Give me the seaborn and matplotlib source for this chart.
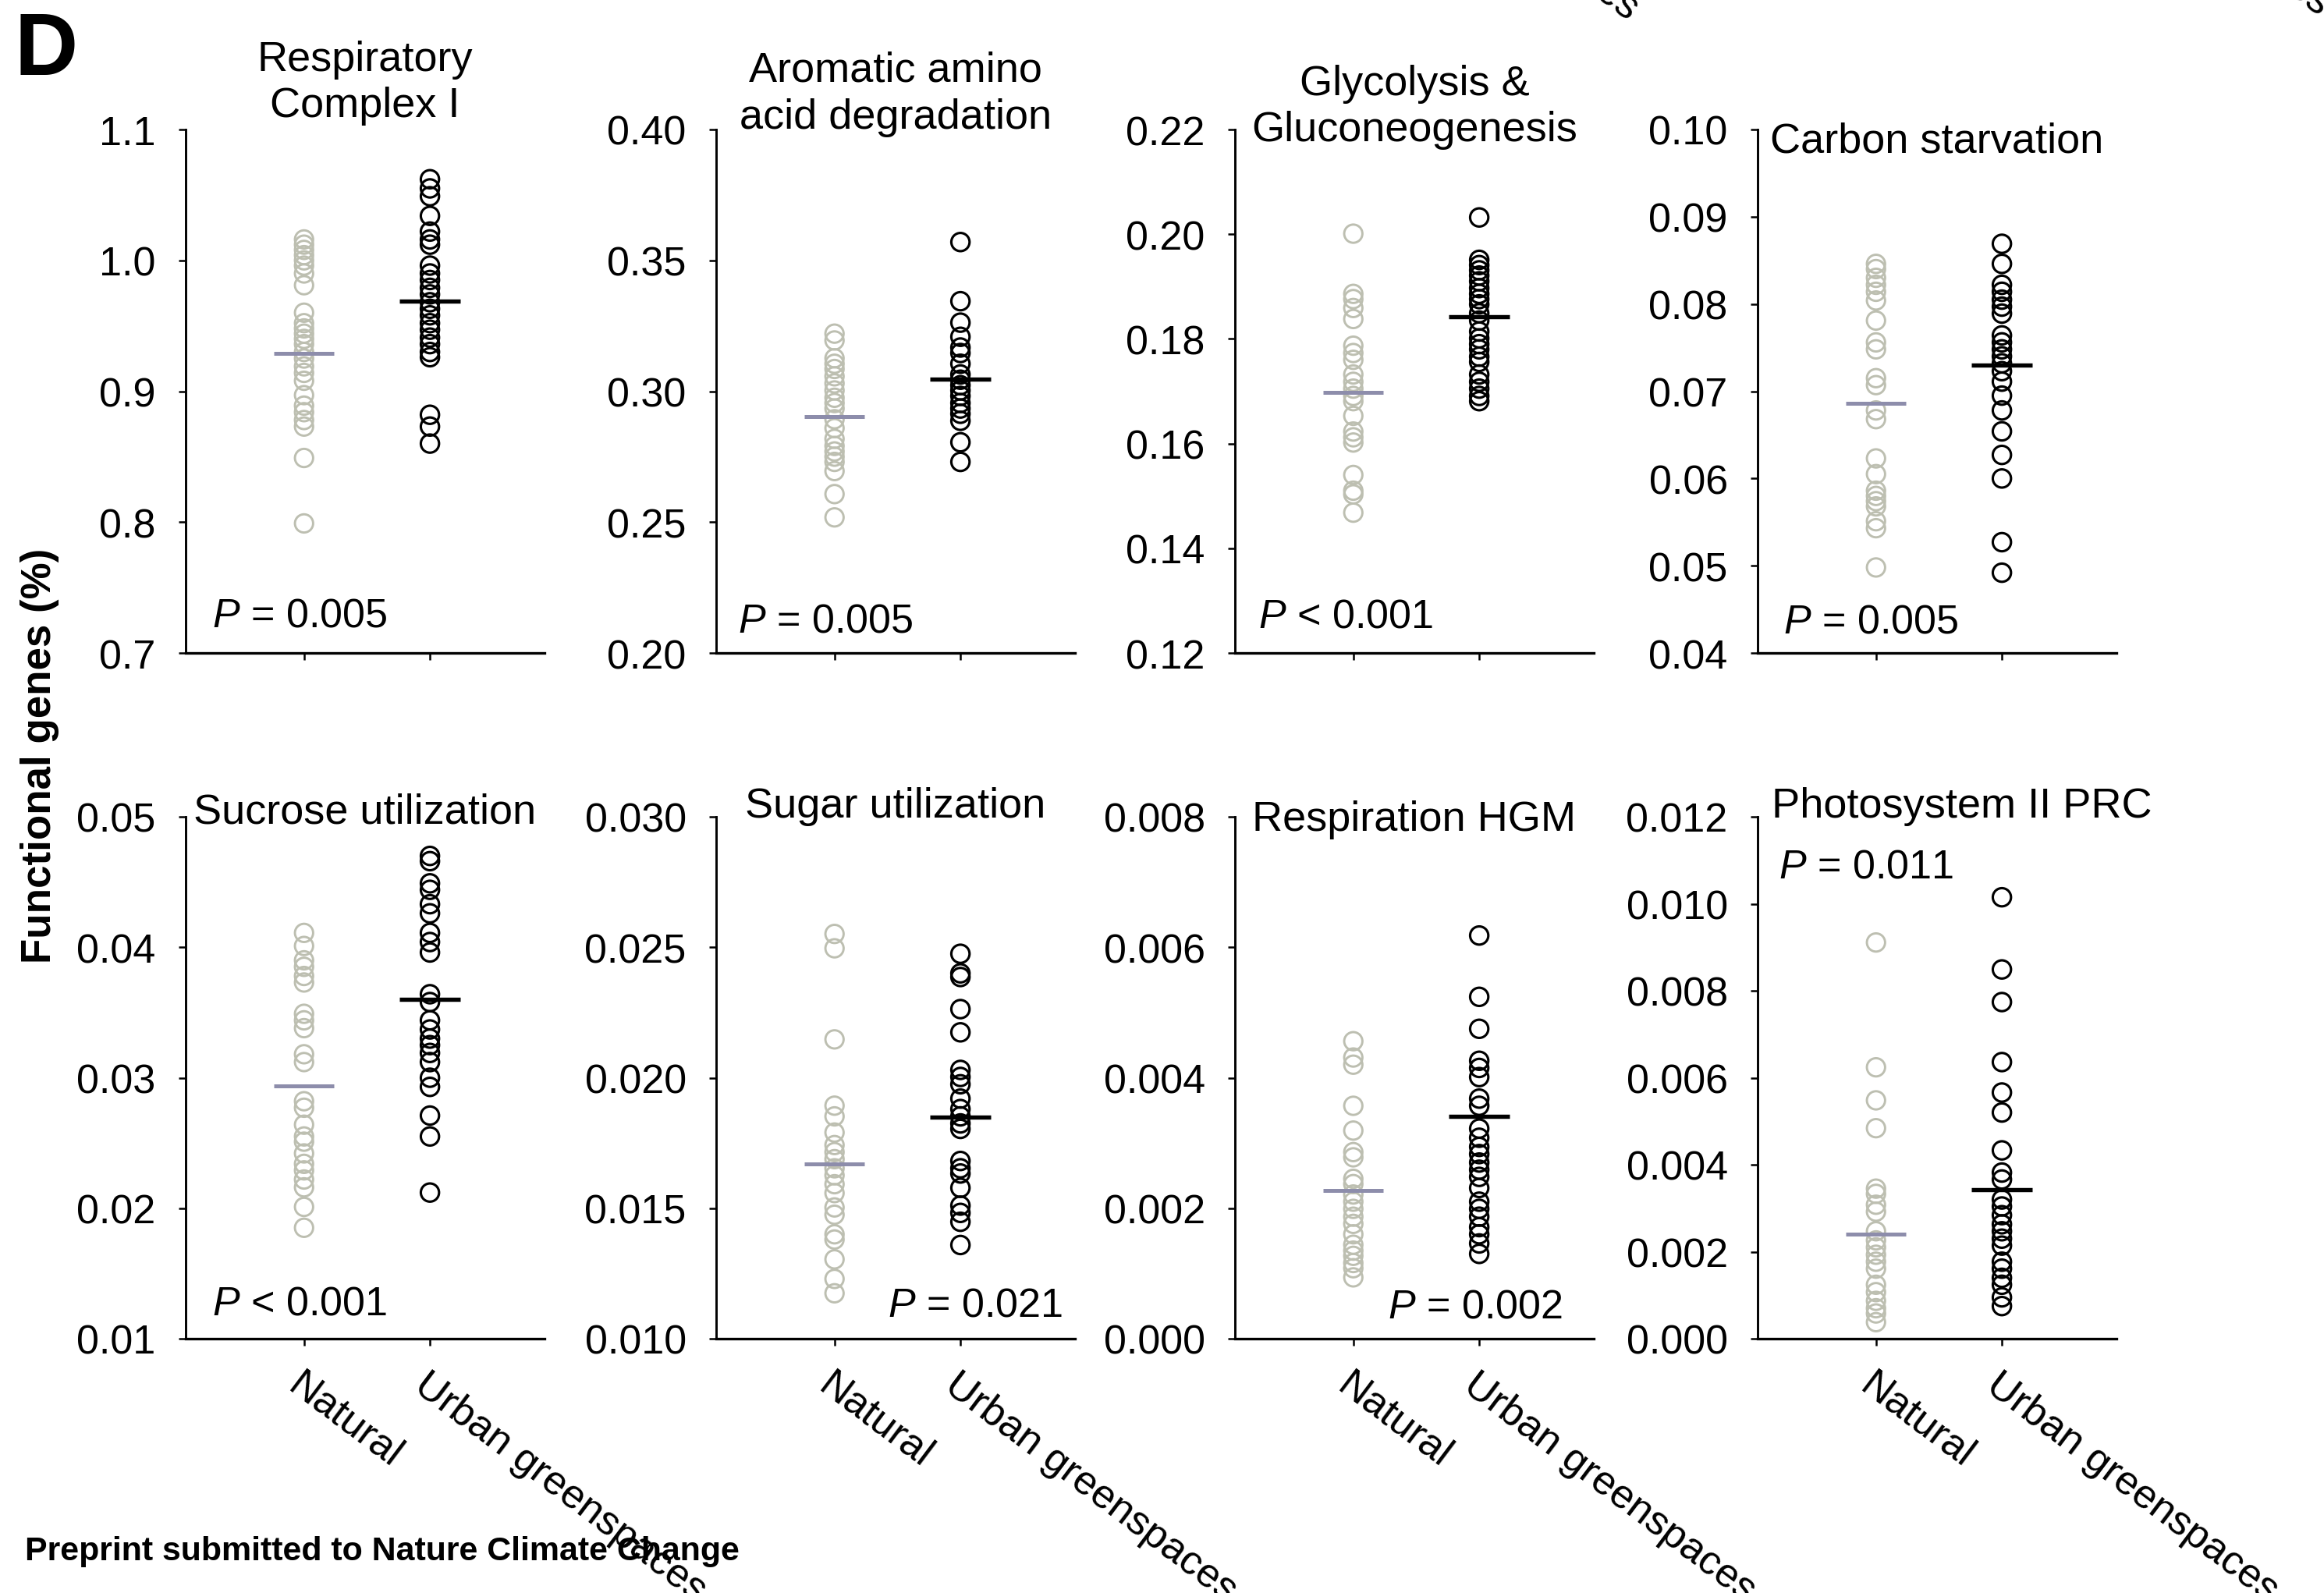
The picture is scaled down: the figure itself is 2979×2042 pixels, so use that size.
import numpy as np
import pandas as pd
import seaborn as sns
import matplotlib.pyplot as plt
from matplotlib.ticker import FormatStrFormatter

# values (functional genes, %)
groups = ['Natural', 'Urban greenspaces']

nat_complex1 = [1.016, 1.012, 1.008, 1.004, 1.000, 0.996, 0.990, 0.981, 0.960, 0.952, 0.948, 0.944, 0.940,
                0.936, 0.930, 0.925, 0.919, 0.914, 0.908, 0.897, 0.889, 0.884, 0.878, 0.873, 0.849, 0.799]
urb_complex1 = [1.062, 1.055, 1.049, 1.034, 1.022, 1.016, 1.012, 0.996, 0.990, 0.985, 0.979, 0.974, 0.968,
                0.963, 0.958, 0.952, 0.947, 0.941, 0.936, 0.930, 0.926, 0.882, 0.873, 0.860]

nat_aromatic = [0.322, 0.3194, 0.3126, 0.3105, 0.3085, 0.3057, 0.303, 0.3003, 0.2975, 0.2955, 0.2934, 0.2893,
                0.2859, 0.2818, 0.2791, 0.2770, 0.2750, 0.2730, 0.2695, 0.2607, 0.2518]
urb_aromatic = [0.357, 0.3344, 0.3262, 0.3208, 0.3167, 0.3146, 0.3105, 0.3064, 0.3044, 0.3023, 0.3003, 0.2982,
                0.2955, 0.2934, 0.2914, 0.2887, 0.2805, 0.2730]

nat_glyco = [0.2001, 0.1886, 0.1876, 0.1859, 0.1838, 0.1787, 0.1773, 0.1760, 0.1732, 0.1718, 0.1705, 0.1691,
             0.1681, 0.1653, 0.1623, 0.1612, 0.1602, 0.1540, 0.1510, 0.1503, 0.1468]
urb_glyco = [0.2032, 0.1951, 0.1941, 0.1931, 0.1921, 0.1910, 0.1897, 0.1886, 0.1876, 0.1866, 0.1849, 0.1835,
             0.1814, 0.1801, 0.1790, 0.1780, 0.1766, 0.1756, 0.1732, 0.1718, 0.1705, 0.1691, 0.1681]

nat_carbon = [0.0846, 0.0840, 0.0830, 0.0822, 0.0814, 0.0804, 0.0781, 0.0756, 0.0748, 0.0715, 0.0707, 0.0678,
              0.0668, 0.0623, 0.0605, 0.0586, 0.0580, 0.0574, 0.0568, 0.0551, 0.0543, 0.0498]
urb_carbon = [0.0869, 0.0846, 0.0822, 0.0814, 0.0805, 0.0797, 0.0789, 0.0764, 0.0756, 0.0748, 0.0740, 0.0732,
              0.0723, 0.0711, 0.0695, 0.0678, 0.0654, 0.0627, 0.0600, 0.0527, 0.0492]

nat_sucrose = [0.0411, 0.0401, 0.0390, 0.0385, 0.0378, 0.0373, 0.0349, 0.0344, 0.0338, 0.0318, 0.0312, 0.0282,
               0.0277, 0.0264, 0.0255, 0.0251, 0.0242, 0.0234, 0.0229, 0.0222, 0.0216, 0.0201, 0.0185]
urb_sucrose = [0.0470, 0.0466, 0.0449, 0.0444, 0.0433, 0.0426, 0.0411, 0.0404, 0.0396, 0.0364, 0.0358, 0.0344,
               0.0337, 0.0330, 0.0325, 0.0319, 0.0312, 0.0300, 0.0293, 0.0271, 0.0255, 0.0212]

nat_sugar = [0.02551, 0.02496, 0.02147, 0.01893, 0.01852, 0.0179, 0.01742, 0.01715, 0.01688, 0.01653, 0.01626,
             0.01592, 0.01558, 0.01503, 0.01475, 0.01400, 0.0138, 0.01304, 0.01229, 0.01174]
urb_sugar = [0.02475, 0.0240, 0.02386, 0.02263, 0.02174, 0.0203, 0.02003, 0.01975, 0.0192, 0.0188, 0.01852,
             0.01825, 0.01804, 0.01681, 0.01653, 0.01633, 0.01578, 0.0151, 0.01482, 0.01448, 0.01359]

nat_hgm = [0.00456, 0.00431, 0.0042, 0.00357, 0.00319, 0.00286, 0.00278, 0.00245, 0.00237, 0.00221, 0.0021,
           0.00199, 0.00187, 0.00176, 0.0016, 0.00144, 0.00135, 0.00127, 0.00116, 0.00108, 0.00094]
urb_hgm = [0.00618, 0.00524, 0.00475, 0.00426, 0.00415, 0.00401, 0.00368, 0.00357, 0.00322, 0.00308, 0.00294,
           0.00283, 0.0027, 0.00259, 0.00248, 0.00231, 0.0021, 0.00199, 0.00187, 0.00171, 0.0016, 0.00146, 0.0013]

nat_psii = [0.00911, 0.00624, 0.00548, 0.00484, 0.00345, 0.00333, 0.00308, 0.00292, 0.00247, 0.00226, 0.0021,
            0.00193, 0.00177, 0.00161, 0.00124, 0.00107, 0.00087, 0.0007, 0.00058, 0.00038]
urb_psii = [0.01015, 0.00849, 0.00774, 0.00636, 0.00566, 0.0052, 0.00433, 0.00382, 0.00366, 0.0032, 0.00304,
            0.00284, 0.00263, 0.00247, 0.0023, 0.00214, 0.00177, 0.00161, 0.0014, 0.00124, 0.00095, 0.00075]

mean_nat = [0.929, 0.2904, 0.1698, 0.0686, 0.0294, 0.01671, 0.00227, 0.00241]
mean_urb = [0.969, 0.3046, 0.1843, 0.0730, 0.0360, 0.01848, 0.00341, 0.00343]

titles = ['Respiratory\nComplex I', 'Aromatic amino\nacid degradation', 'Glycolysis &\nGluconeogenesis',
          'Carbon starvation', 'Sucrose utilization', 'Sugar utilization', 'Respiration HGM', 'Photosystem II PRC']
p_labels = ['= 0.005', '= 0.005', '< 0.001', '= 0.005', '< 0.001', '= 0.021', '= 0.002', '= 0.011']
y_limits = [(0.7, 1.1, 0.1), (0.20, 0.40, 0.05), (0.12, 0.22, 0.02), (0.04, 0.10, 0.01),
            (0.01, 0.05, 0.01), (0.010, 0.030, 0.005), (0.000, 0.008, 0.002), (0.000, 0.012, 0.002)]
y_formats = ['%.1f', '%.2f', '%.2f', '%.2f', '%.2f', '%.3f', '%.3f', '%.3f']

natural = [nat_complex1, nat_aromatic, nat_glyco, nat_carbon, nat_sucrose, nat_sugar, nat_hgm, nat_psii]
urban = [urb_complex1, urb_aromatic, urb_glyco, urb_carbon, urb_sucrose, urb_sugar, urb_hgm, urb_psii]

# layout (pixels of the 2979x2043 canvas / axes fractions)
W, H = 2979, 2043
lefts = [238, 918, 1583, 2253]
row_px = [(167, 838), (1048, 1717)]
title_pos = [(0.5, 1.090), (0.5, 1.069), (0.5, 1.044), (0.5, 0.978),
             (0.5, 1.010), (0.5, 1.021), (0.5, 0.996), (0.57, 1.021)]
p_pos = [(0.074, 0.072, 'left'), (0.061, 0.061, 'left'), (0.065, 0.070, 'left'), (0.072, 0.060, 'left'),
         (0.074, 0.067, 'left'), (0.965, 0.064, 'right'), (0.913, 0.061, 'right'), (0.059, 0.904, 'left')]

nat_color = '#BDBFB1'
nat_mean_color = '#8D8DAB'

sns.set_style('ticks')
plt.rcParams['font.family'] = ['Liberation Sans', 'DejaVu Sans']
plt.rcParams['mathtext.fontset'] = 'custom'
plt.rcParams['mathtext.it'] = 'Liberation Sans:italic'
plt.rcParams['mathtext.rm'] = 'Liberation Sans'
for key in ['text.color', 'axes.labelcolor', 'xtick.color', 'ytick.color', 'axes.edgecolor']:
    plt.rcParams[key] = 'black'

fig = plt.figure(figsize=(W / 300, H / 300), dpi=300)

for i in range(8):
    row, col = divmod(i, 4)
    top, bot = row_px[row]
    ax = fig.add_axes([lefts[col] / W, 1 - bot / H, 460 / W, (bot - top) / H])

    df = pd.DataFrame({'group': [groups[0]] * len(natural[i]) + [groups[1]] * len(urban[i]),
                       'value': natural[i] + urban[i]})
    sns.stripplot(data=df, x='group', y='value', hue='group', order=groups, hue_order=groups,
                  palette=[nat_color, 'black'], jitter=False, size=5.6, linewidth=0, legend=False, ax=ax)
    for coll, c in zip(ax.collections, [nat_color, 'black']):
        coll.set_facecolor('none')
        coll.set_edgecolor(c)
        coll.set_linewidth(0.75 if c == 'black' else 0.7)
        coll.set_clip_on(False)

    ax.hlines(mean_nat[i], -0.24, 0.24, color=nat_mean_color, lw=1.2, zorder=5)
    ax.hlines(mean_urb[i], 0.76, 1.24, color='black', lw=1.3, zorder=5)

    lo, hi, step = y_limits[i]
    ax.set_ylim(lo, hi)
    ax.set_yticks(np.arange(lo, hi + step / 2, step))
    ax.yaxis.set_major_formatter(FormatStrFormatter(y_formats[i]))
    ax.set_xlim(-0.94, 1.91)
    ax.set_xlabel('')
    ax.set_ylabel('')
    ax.tick_params(axis='both', labelsize=12.5, width=0.6, length=2.2, pad=7)
    ax.tick_params(axis='x', pad=6)
    ax.set_xticks([0, 1])
    if row == 0:
        ax.set_xticklabels([])
    else:
        ax.set_xticklabels(groups, rotation=-37, ha='left', va='top', rotation_mode='anchor', fontsize=12.5)
    sns.despine(ax=ax)
    ax.spines['left'].set_linewidth(0.7)
    ax.spines['bottom'].set_linewidth(0.8)

    tx, ty = title_pos[i]
    ax.text(tx, ty, titles[i], transform=ax.transAxes, ha='center', va='center', fontsize=13,
            linespacing=1.25)
    px, py, pha = p_pos[i]
    ax.text(px, py, r'$\mathit{P}$ ' + p_labels[i], transform=ax.transAxes, ha=pha, va='center',
            fontsize=12.5)

fig.text(51 / W, 1 - 969 / H, 'Functional genes (%)', rotation=90, ha='center', va='center',
         fontsize=12.7, fontweight='bold')
fig.text(19 / W, 1 - 14 / H, 'D', ha='left', va='top', fontsize=27, fontweight='bold')
fig.text(32 / W, 1 - 1989 / H, 'Preprint submitted to Nature Climate Change', ha='left', va='center',
         fontsize=10.3, fontweight='bold')

# cut-off axis labels from the panels above this figure
for ex, ey in [(2080, 36), (2966, 30)]:
    fig.text(ex / W, 1 - ey / H, 'Urban greenspaces', rotation=-37, ha='right', va='bottom',
             rotation_mode='anchor', fontsize=12.5)

fig.savefig('out.png', dpi=300)
